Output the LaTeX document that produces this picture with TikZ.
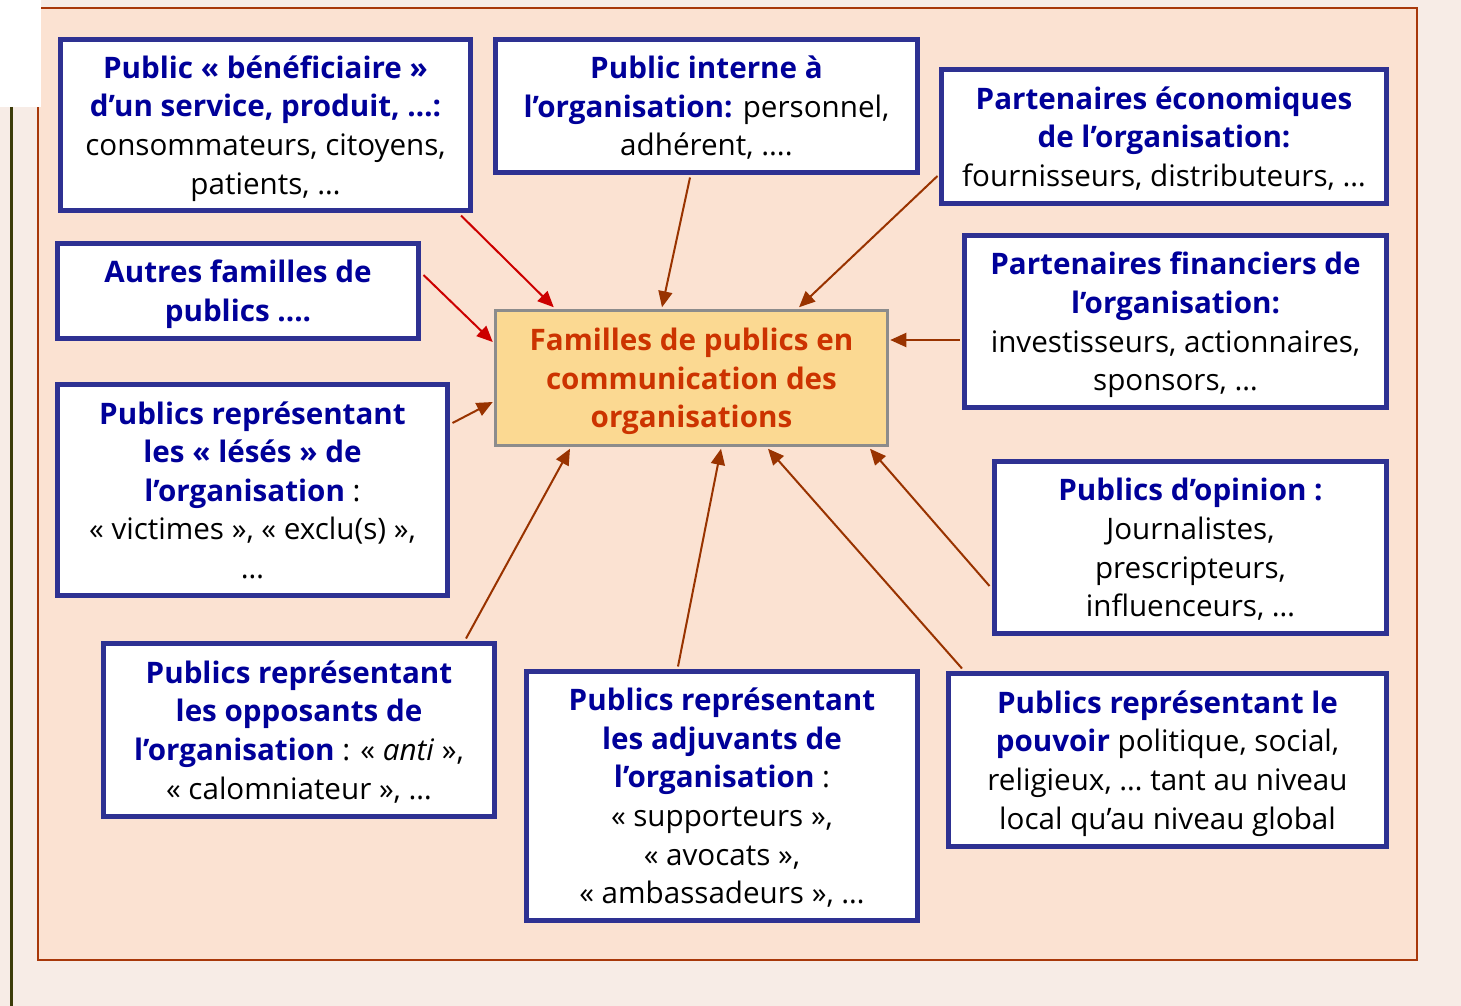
\documentclass[tikz,border=0pt]{standalone}
\usepackage{fontspec}
\setmainfont{Open Sans}
\usetikzlibrary{arrows.meta,calc}
\definecolor{bgpink}{RGB}{247,236,230}
\definecolor{peach}{RGB}{251,226,210}
\definecolor{framebrown}{RGB}{168,56,10}
\definecolor{oliveline}{RGB}{60,60,10}
\definecolor{boxblue}{RGB}{46,49,146}
\definecolor{titleblue}{RGB}{0,0,153}
\definecolor{centerfill}{RGB}{251,217,146}
\definecolor{centertext}{RGB}{204,51,0}
\definecolor{arrred}{RGB}{204,0,0}
\definecolor{arrbrown}{RGB}{153,51,0}
\newcommand{\tb}[1]{{\bfseries\color{titleblue}#1}}
\newcommand{\bx}[1]{\raisebox{-3.5pt}[\height][\depth]{\begin{tabular}{@{}c@{}}#1\end{tabular}}}
\begin{document}
\begin{tikzpicture}[x=1pt,y=-1pt,
  pubbox/.style={draw=boxblue, line width=5pt, fill=white, inner sep=0pt,
    font=\fontsize{29.6}{38.6}\selectfont},
  centerbox/.style={draw=gray!90, line width=2.5pt, fill=centerfill, inner sep=0pt,
    text=centertext, font=\fontsize{29.6}{38.6}\selectfont\bfseries},
  redlink/.style={draw=arrred, line width=2pt, -{Triangle[length=16pt,width=14pt]}},
  brownlink/.style={draw=arrbrown, line width=2pt, -{Triangle[length=16pt,width=14pt]}}]
\useasboundingbox (0,0) rectangle (1461,1006);
\fill[bgpink] (0,0) rectangle (1461,1006);
\draw[fill=peach, draw=framebrown, line width=2.5pt] (38,8) rectangle (1417,960);
\fill[white] (0,0) rectangle (41,107);
\draw[oliveline, line width=3pt] (11,107) -- (11,1006);

\node[pubbox, minimum width=410pt, minimum height=171pt] (b1) at (265.5,125)
  {\bx{\tb{Public « bénéficiaire »}\\ \tb{d’un service, produit, …:}\\ consommateurs, citoyens,\\ patients, …}};
\node[pubbox, minimum width=422pt, minimum height=133pt] (b2) at (706.5,106)
  {\bx{\tb{Public interne à}\\ \tb{l’organisation:} personnel,\\ adhérent, ....}};
\node[pubbox, minimum width=445pt, minimum height=134pt] (b3) at (1164,136.5)
  {\bx{\tb{Partenaires économiques}\\ \tb{de l’organisation:}\\ fournisseurs, distributeurs, …}};
\node[pubbox, minimum width=361pt, minimum height=95pt] (b4) at (238,291)
  {\bx{\tb{Autres familles de}\\ \tb{publics ....}}};
\node[pubbox, minimum width=422pt, minimum height=172pt] (b5) at (1175.5,321.5)
  {\bx{\tb{Partenaires financiers de}\\ \tb{l’organisation:}\\ investisseurs, actionnaires,\\ sponsors, …}};
\node[pubbox, minimum width=390pt, minimum height=211pt] (b6) at (252.5,490)
  {\bx{\tb{Publics représentant}\\ \tb{les « lésés » de}\\ \tb{l’organisation} :\\ « victimes », « exclu(s) »,\\ …}};
\node[pubbox, minimum width=392pt, minimum height=172pt] (b7) at (1190.5,547.5)
  {\bx{\tb{Publics d’opinion :}\\ Journalistes,\\ prescripteurs,\\ influenceurs, …}};
\node[pubbox, minimum width=391pt, minimum height=173pt] (b8) at (299,730)
  {\bx{\tb{Publics représentant}\\ \tb{les opposants de}\\ \tb{l’organisation} : « \textit{anti} »,\\ « calomniateur », …}};
\node[pubbox, minimum width=391pt, minimum height=249pt] (b9) at (722,796)
  {\bx{\tb{Publics représentant}\\ \tb{les adjuvants de}\\ \tb{l’organisation} :\\ « supporteurs »,\\ « avocats »,\\ « ambassadeurs », …}};
\node[pubbox, minimum width=438pt, minimum height=173pt] (b10) at (1167.5,760)
  {\bx{\tb{Publics représentant le}\\ \tb{pouvoir} politique, social,\\ religieux, … tant au niveau\\ local qu’au niveau global}};
\node[centerbox, minimum width=392pt, minimum height=135pt] (c) at (691.5,378)
  {\bx{Familles de publics en\\ communication des\\ organisations}};

\draw[redlink] ($(b1.south east)+(-12,2.5)$) -- ($(c.north west)+(59.5,-2)$);
\draw[redlink] ($(b4.east)+(2.5,-16)$) -- ($(c.west)+(-1.5,-36)$);
\draw[brownlink] ($(b2.south)+(-16.5,2.5)$) -- ($(c.north)+(-29.5,-2)$);
\draw[brownlink] ($(b3.west)+(-1.5,39.5)$) -- ($(c.north)+(107.5,-2)$);
\draw[brownlink] ($(b5.west)+(-2.5,18.5)$) -- ($(c.east)+(1.5,-38)$);
\draw[brownlink] ($(b6.east)+(2.5,-67)$) -- ($(c.west)+(-1.5,24)$);
\draw[brownlink] ($(b8.north)+(167,-2.5)$) -- ($(c.south)+(-121.5,2)$);
\draw[brownlink] ($(b9.north)+(-44,-2.5)$) -- ($(c.south)+(29.5,2)$);
\draw[brownlink] ($(b10.north)+(-205.5,-2.5)$) -- ($(c.south)+(76.5,2)$);
\draw[brownlink] ($(b7.west)+(-2.5,38.5)$) -- ($(c.south)+(178.5,2)$);
\end{tikzpicture}
\end{document}
